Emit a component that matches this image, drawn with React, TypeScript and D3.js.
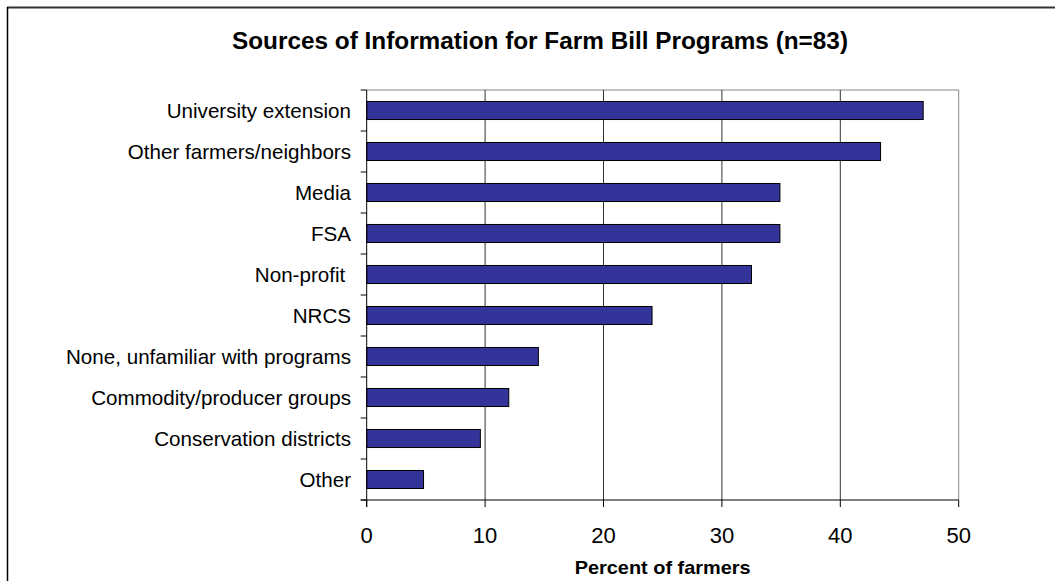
import React from "react";
import * as d3 from "d3";

const categories = [
  "University extension",
  "Other farmers/neighbors",
  "Media",
  "FSA",
  "Non-profit ",
  "NRCS",
  "None, unfamiliar with programs",
  "Commodity/producer groups",
  "Conservation districts",
  "Other",
];
const values = [47.0, 43.4, 34.9, 34.9, 32.5, 24.1, 14.5, 12.0, 9.6, 4.8];
const xTicks = [0, 10, 20, 30, 40, 50];
const title = "Sources of Information for Farm Bill Programs (n=83)";
const xTitle = "Percent of farmers";

const W = 1055;
const H = 581;
const left = 366.7;
const right = 958.7;
const top = 90;
const bottom = 500;
const font = "Arial, 'Liberation Sans', Helvetica, sans-serif";

export default function App() {
  const x = d3.scaleLinear().domain([0, 50]).range([left, right]);
  const y = d3
    .scaleBand<string>()
    .domain(categories)
    .range([top, bottom])
    .paddingInner(0.56)
    .paddingOuter(0.28);
  const step = y.step();

  return (
    <svg
      width={W}
      height={H}
      style={{ position: "absolute", left: 0, top: 0, background: "#fff" }}
      fontFamily={font}
    >
      <rect x={0} y={0} width={W} height={H} fill="#fff" />
      {/* outer frame */}
      <line x1={7} y1={7.5} x2={W} y2={7.5} stroke="#333" strokeWidth={2} />
      <line x1={7.5} y1={7} x2={7.5} y2={H} stroke="#000" strokeWidth={1.5} />

      <text
        x={540}
        y={49}
        textAnchor="middle"
        fontSize={23}
        fontWeight="bold"
        fill="#000"
        textLength={616}
        lengthAdjust="spacingAndGlyphs"
      >
        {title}
      </text>

      {/* plot border */}
      <line x1={left} y1={top} x2={right} y2={top} stroke="#888" strokeWidth={1} />
      <line x1={right} y1={top} x2={right} y2={bottom} stroke="#888" strokeWidth={1} />

      {/* gridlines */}
      {xTicks
        .filter((t) => t > 0 && t < 50)
        .map((t) => (
          <line
            key={"g" + t}
            x1={x(t)}
            x2={x(t)}
            y1={top}
            y2={bottom}
            stroke="#333"
            strokeWidth={1}
          />
        ))}

      {/* bars */}
      {categories.map((c, i) => (
        <rect
          key={c}
          x={x(0)}
          y={y(c)!}
          width={x(values[i]) - x(0)}
          height={y.bandwidth()}
          fill="#333399"
          stroke="#000"
          strokeWidth={1}
        />
      ))}

      {/* y axis */}
      <line x1={left} y1={top} x2={left} y2={bottom + 7} stroke="#000" strokeWidth={1} />
      {d3.range(categories.length + 1).map((i) => (
        <line
          key={"yt" + i}
          x1={left - 6}
          x2={left}
          y1={top + i * step}
          y2={top + i * step}
          stroke="#000"
          strokeWidth={1}
        />
      ))}
      {categories.map((c) => (
        <text
          key={"l" + c}
          x={351}
          y={y(c)! + y.bandwidth() / 2}
          dy="0.35em"
          textAnchor="end"
          fontSize={20.6}
          fill="#000"
          style={{ whiteSpace: "pre" }}
        >
          {c}
        </text>
      ))}

      {/* x axis */}
      <line x1={left - 6} y1={bottom} x2={right} y2={bottom} stroke="#000" strokeWidth={1} />
      {xTicks.map((t) => (
        <g key={"xt" + t}>
          <line x1={x(t)} x2={x(t)} y1={bottom} y2={bottom + 7} stroke="#000" strokeWidth={1} />
          <text x={x(t)} y={543} textAnchor="middle" fontSize={22} fill="#000">
            {t}
          </text>
        </g>
      ))}
      <text
        x={(left + right) / 2}
        y={574}
        textAnchor="middle"
        fontSize={19}
        fontWeight="bold"
        fill="#000"
        textLength={176}
        lengthAdjust="spacingAndGlyphs"
      >
        {xTitle}
      </text>
    </svg>
  );
}
